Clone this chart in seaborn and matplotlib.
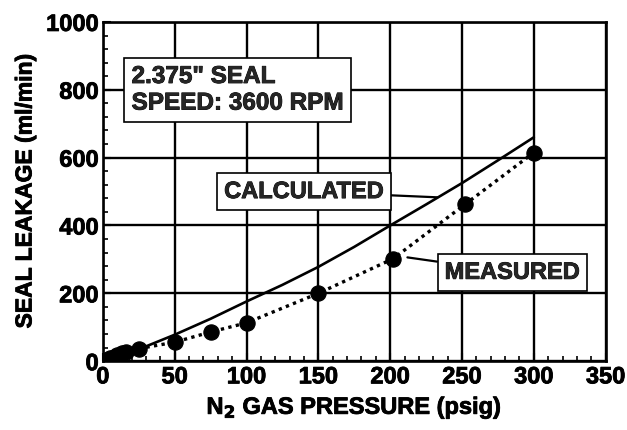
import matplotlib
matplotlib.use("Agg")
import matplotlib.pyplot as plt
import matplotlib.patheffects as pe
import seaborn as sns
import pandas as pd
from matplotlib.ticker import MultipleLocator

sns.set_theme(style="white")
plt.rcParams['font.family'] = ['Liberation Sans', 'DejaVu Sans']
plt.rcParams['font.weight'] = 'bold'
plt.rcParams['mathtext.default'] = 'bf'

# Calculated leakage curve (psig, ml/min)
calc_pressure = [0, 25, 50, 75, 100, 125, 150, 175, 200, 225, 250, 275, 300]
calc_leakage = [0, 35, 78, 125, 176, 225, 278, 337, 400, 462, 525, 592, 660]

# Measured leakage (psig, ml/min)
meas_pressure = [0, 2, 5, 8, 10, 13, 16, 25, 50, 75, 100, 150, 202, 252, 300]
meas_leakage = [0, 4, 8, 13, 18, 24, 28, 37, 56, 86, 113, 200, 302, 462, 615]

x_ticks = [0, 50, 100, 150, 200, 250, 300, 350]
y_ticks = [0, 200, 400, 600, 800, 1000]

calc_df = pd.DataFrame({"p": calc_pressure, "q": calc_leakage})
meas_df = pd.DataFrame({"p": meas_pressure, "q": meas_leakage})

heavy = [pe.withStroke(linewidth=0.6, foreground="black")]

fig = plt.figure(figsize=(6.27, 4.30), dpi=100)
ax = fig.add_axes([0.164, 0.160, 0.802, 0.789])

sns.lineplot(data=calc_df, x="p", y="q", ax=ax, color="black", linewidth=1.9,
             estimator=None, sort=True)
sns.lineplot(data=meas_df, x="p", y="q", ax=ax, color="black", linewidth=2.4,
             linestyle=(0, (1, 1.3)), estimator=None, sort=True)
sns.scatterplot(data=meas_df, x="p", y="q", ax=ax, color="black", s=120,
                edgecolor="black", zorder=5)

ax.set_xlim(0, 350)
ax.set_ylim(0, 1000)
ax.set_xticks(x_ticks)
ax.set_yticks(y_ticks)
ax.xaxis.set_minor_locator(MultipleLocator(10))
ax.yaxis.set_minor_locator(MultipleLocator(40))
ax.grid(True, which="major", color="black", linewidth=1.7)
ax.set_axisbelow(True)
for s in ax.spines.values():
    s.set_color("black")
    s.set_linewidth(1.9)
ax.tick_params(which="major", direction="in", length=6, width=1.5, color="black",
               labelsize=17, pad=3, left=True, bottom=True)
ax.tick_params(which="minor", direction="in", length=3.5, width=1.2, color="black",
               left=True, bottom=True)
for lab in ax.get_xticklabels() + ax.get_yticklabels():
    lab.set_fontweight("bold")
    lab.set_color("black")
    lab.set_path_effects(heavy)

ax.set_xlabel("N$_2$ GAS PRESSURE (psig)", fontsize=17, fontweight="bold", color="black",
              labelpad=4, path_effects=heavy)
ax.set_ylabel("SEAL LEAKAGE (ml/min)", fontsize=16.5, fontweight="bold", color="black",
              labelpad=7, path_effects=heavy)

box = dict(boxstyle="square,pad=0.3", facecolor="white", edgecolor="black", linewidth=1.2)
ax.text(20, 800, "2.375\" SEAL\nSPEED: 3600 RPM", fontsize=17.5, fontweight="bold",
        ha="left", va="center", bbox=box, linespacing=1.2, zorder=6, path_effects=heavy)
ax.annotate("CALCULATED", xy=(233, 483), xytext=(140, 500), fontsize=17, fontweight="bold",
            ha="center", va="center", bbox=box, zorder=6, path_effects=heavy,
            arrowprops=dict(arrowstyle="-", color="black", linewidth=1.6,
                            shrinkA=0, shrinkB=0))
ax.annotate("MEASURED", xy=(212, 306), xytext=(285, 262), fontsize=17, fontweight="bold",
            ha="center", va="center", bbox=box, zorder=6, path_effects=heavy,
            arrowprops=dict(arrowstyle="-", color="black", linewidth=1.6,
                            shrinkA=0, shrinkB=0))

fig.savefig("out.png", dpi=100)
